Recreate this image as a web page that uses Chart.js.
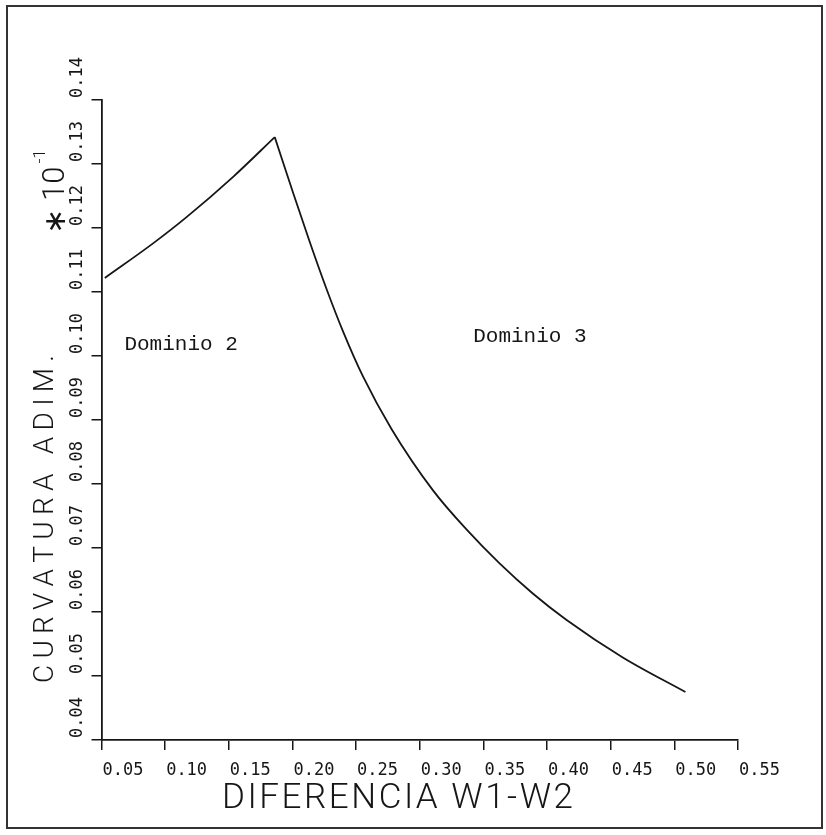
<!DOCTYPE html>
<html>
<head>
<meta charset="utf-8">
<script src="https://cdn.jsdelivr.net/npm/chart.js@4.4.0/dist/chart.umd.min.js"></script>
<style>
  body { margin: 0; background: #fff; }
  #wrap { width: 826px; height: 835px; }
</style>
</head>
<body>
<div id="wrap"><canvas id="chart" width="826" height="835"></canvas></div>
<script>
// Dominio 2 branch (rising) and Dominio 3 branch (falling)
const xDom2 = [0.0526, 0.0905, 0.1168, 0.1534, 0.1861];
const yDom2 = [0.1122, 0.1176, 0.1217, 0.1280, 0.1342];
const xDom3 = [0.1861, 0.2005, 0.2136, 0.2267, 0.2398, 0.2554, 0.2778, 0.3104, 0.3367, 0.3627, 0.3888, 0.4151, 0.4595, 0.5087];
const yDom3 = [0.1342, 0.1255, 0.1178, 0.1105, 0.1038, 0.0968, 0.0886, 0.0790, 0.0729, 0.0676, 0.0629, 0.0588, 0.0529, 0.0475];

const xTicks = [0.05, 0.10, 0.15, 0.20, 0.25, 0.30, 0.35, 0.40, 0.45, 0.50, 0.55];
const yTicks = [0.04, 0.05, 0.06, 0.07, 0.08, 0.09, 0.10, 0.11, 0.12, 0.13, 0.14];

const xTitle = "DIFERENCIA W1-W2";
const yTitle = "CURVATURA ADIM.";
const notes = [
  { text: "Dominio 2", x: 0.068, y: 0.1010 },
  { text: "Dominio 3", x: 0.342, y: 0.1022 },
];

const INK = "#161616";

function toPoints(xs, ys) {
  return xs.map((x, i) => ({ x: x, y: ys[i] }));
}

// draws text with extra spacing so it fills a given width
function drawSpaced(ctx, text, x, y, width) {
  const chars = text.split("");
  const ws = chars.map((c) => ctx.measureText(c).width);
  const total = ws.reduce((a, b) => a + b, 0);
  const gap = chars.length > 1 ? (width - total) / (chars.length - 1) : 0;
  let cx = x;
  chars.forEach((c, i) => {
    ctx.fillText(c, cx, y);
    cx += ws[i] + gap;
  });
}

const decorPlugin = {
  id: "decor",
  afterDraw(chart) {
    const ctx = chart.ctx;
    const xs = chart.scales.x;
    const ys = chart.scales.y;
    ctx.save();

    // page frame
    ctx.strokeStyle = "#333";
    ctx.lineWidth = 2;
    ctx.strokeRect(7, 6, 815, 822);

    ctx.fillStyle = INK;
    ctx.font = "17px 'DejaVu Sans Mono'";

    // x tick labels, starting at the tick
    ctx.textAlign = "left";
    ctx.textBaseline = "alphabetic";
    xTicks.forEach((v) => {
      ctx.fillText(v.toFixed(2), xs.getPixelForValue(v) + 1, 775);
    });

    // y tick labels, rotated, starting at the tick
    yTicks.forEach((v) => {
      ctx.save();
      ctx.translate(82, ys.getPixelForValue(v) - 2);
      ctx.rotate(-Math.PI / 2);
      ctx.textBaseline = "alphabetic";
      ctx.fillText(v.toFixed(2), 0, 0);
      ctx.restore();
    });

    // x axis title
    ctx.font = "300 35px Roboto";
    drawSpaced(ctx, xTitle, 222, 808, 351);

    // y axis title + multiplier
    ctx.save();
    ctx.translate(53, 683);
    ctx.rotate(-Math.PI / 2);
    ctx.font = "300 28px Roboto";
    drawSpaced(ctx, yTitle, 0, 0, 328);
    ctx.restore();

    ctx.save();
    ctx.translate(64, 232);
    ctx.rotate(-Math.PI / 2);
    ctx.font = "30px 'DejaVu Sans'";
    ctx.fillText("\u2217", -2, 1);
    ctx.font = "300 31px Roboto";
    ctx.fillText("10", 31, 0);
    const w = 31 + ctx.measureText("10").width;
    ctx.font = "300 17px Roboto";
    ctx.fillText("-1", w + 3, -19);
    ctx.restore();

    // region notes
    ctx.font = "21px 'Liberation Mono'";
    ctx.textBaseline = "alphabetic";
    notes.forEach((n) => {
      ctx.fillText(n.text, xs.getPixelForValue(n.x), ys.getPixelForValue(n.y));
    });

    ctx.restore();
  },
};

const lineStyle = {
  borderColor: INK,
  backgroundColor: "transparent",
  borderWidth: 1.8,
  pointRadius: 0,
  cubicInterpolationMode: "monotone",
  fill: false,
};

new Chart(document.getElementById("chart").getContext("2d"), {
  type: "line",
  data: {
    datasets: [
      Object.assign({ data: toPoints(xDom2, yDom2) }, lineStyle),
      Object.assign({ data: toPoints(xDom3, yDom3) }, lineStyle),
    ],
  },
  options: {
    responsive: false,
    animation: false,
    layout: { padding: { left: 0, top: 100, right: 88, bottom: 0 } },
    plugins: { legend: { display: false }, tooltip: { enabled: false } },
    scales: {
      x: {
        type: "linear",
        min: 0.05,
        max: 0.55,
        afterBuildTicks: (s) => { s.ticks = xTicks.map((v) => ({ value: v })); },
        afterFit: (s) => { s.height = 95; },
        ticks: { display: false },
        grid: { drawOnChartArea: false, drawTicks: true, tickLength: 10, color: INK, lineWidth: 1.5 },
        border: { display: true, color: INK, width: 1.8 },
      },
      y: {
        type: "linear",
        min: 0.04,
        max: 0.14,
        afterBuildTicks: (s) => { s.ticks = yTicks.map((v) => ({ value: v })); },
        afterFit: (s) => { s.width = 101.5; },
        ticks: { display: false },
        grid: { drawOnChartArea: false, drawTicks: true, tickLength: 10, color: INK, lineWidth: 1.5 },
        border: { display: true, color: INK, width: 1.8 },
      },
    },
  },
  plugins: [decorPlugin],
});
</script>
</body>
</html>
